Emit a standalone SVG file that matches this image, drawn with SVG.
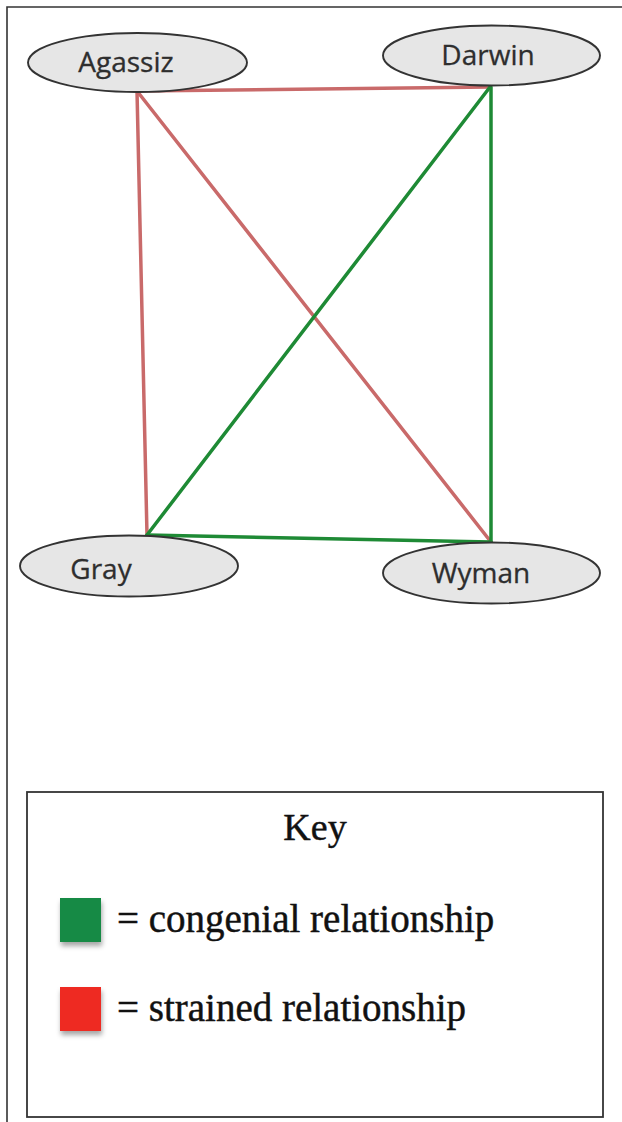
<svg xmlns="http://www.w3.org/2000/svg" width="622" height="1122" viewBox="0 0 622 1122">
  <style>
    .frame { fill: none; stroke: #333; stroke-width: 1.6; }
    .node ellipse { fill: #e6e6e6; stroke: #333; stroke-width: 1.9; }
    .node text { font-family: "Open Sans", "Liberation Sans", sans-serif; font-size: 28px; fill: #2e2e2e; stroke: #2e2e2e; stroke-width: 0.3; text-anchor: middle; }
    .edge { fill: none; stroke-width: 3.5; stroke-linecap: round; }
    .strained { stroke: #c96a6a; }
    .congenial { stroke: #1e8a35; }
    .key text { font-family: "Liberation Serif", "Times New Roman", serif; fill: #111; stroke: #111; stroke-width: 0.45; }
  </style>
  <defs>
    <filter id="shadow" x="-30%" y="-30%" width="160%" height="170%">
      <feDropShadow dx="1" dy="4" stdDeviation="2.5" flood-color="#000" flood-opacity="0.35"/>
    </filter>
  </defs>

  <rect width="622" height="1122" fill="#fff"/>

  <!-- page frame: top and left rules -->
  <path class="frame" d="M7,1122 V7 H622"/>

  <!-- relationships -->
  <g id="connectors">
    <line class="edge strained" x1="137" y1="91" x2="490" y2="87"/>
    <line class="edge strained" x1="137" y1="91" x2="147" y2="535"/>
    <line class="edge strained" x1="137" y1="91" x2="491" y2="542"/>
    <line class="edge congenial" x1="490" y1="87" x2="147" y2="535"/>
    <line class="edge congenial" x1="491" y1="87" x2="491" y2="542"/>
    <line class="edge congenial" x1="147" y1="535" x2="491" y2="542"/>
  </g>

  <g id="agassiz" class="node">
    <ellipse cx="137.5" cy="62.5" rx="109.5" ry="29.5"/>
    <text x="126" y="72">Agassiz</text>
  </g>
  <g id="darwin" class="node">
    <ellipse cx="491.5" cy="55.5" rx="108.5" ry="30"/>
    <text x="488" y="65">Darwin</text>
  </g>
  <g id="gray" class="node">
    <ellipse cx="129" cy="566" rx="109" ry="30.5"/>
    <text x="101" y="579">Gray</text>
  </g>
  <g id="wyman" class="node">
    <ellipse cx="491.5" cy="573" rx="108.5" ry="30.5"/>
    <text x="481" y="583">Wyman</text>
  </g>

  <!-- legend -->
  <g id="key" class="key">
    <rect x="27" y="792" width="576" height="325" fill="#fff" stroke="#333" stroke-width="1.8"/>
    <text x="315" y="840" font-size="38" text-anchor="middle">Key</text>
    <rect x="60" y="898" width="41" height="44" fill="#138a44" stroke="none" filter="url(#shadow)"/>
    <text x="117" y="932" font-size="39">= congenial relationship</text>
    <rect x="60" y="987" width="41" height="44" fill="#ee2a24" stroke="none" filter="url(#shadow)"/>
    <text x="117" y="1021" font-size="39">= strained relationship</text>
  </g>
</svg>
